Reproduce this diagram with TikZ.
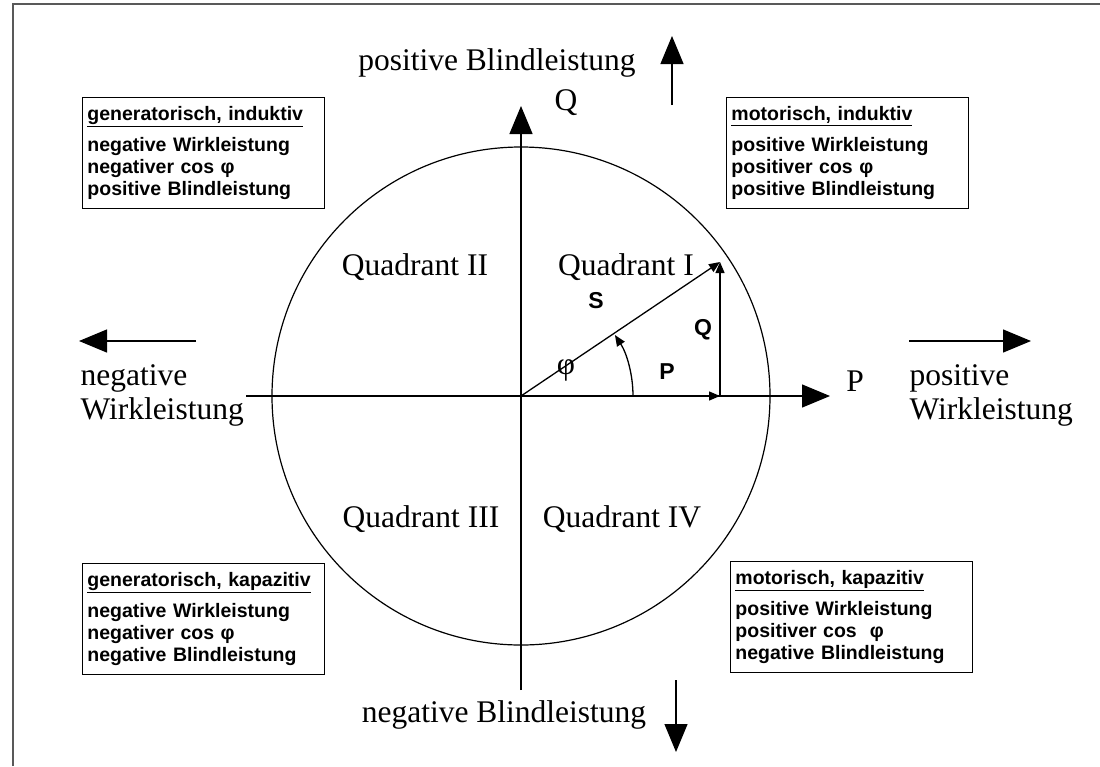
\documentclass[tikz,border=0pt]{standalone}
\usepackage{fontspec}
\setmainfont{Liberation Serif}
\setsansfont{Liberation Sans}
\usetikzlibrary{arrows.meta}

\begin{document}
\begin{tikzpicture}[x=1pt,y=-1pt,
	big/.style={font=\fontsize{31.5}{34}\selectfont},
	vec/.style={font=\sffamily\bfseries\fontsize{23}{26}\selectfont},
	info/.style={draw,line width=0.9pt,anchor=north west,align=left,inner xsep=5pt,inner ysep=9pt,
		text width=232pt,font=\sffamily\bfseries\fontsize{19.5}{22}\selectfont},
	fat/.style={-{Triangle[width=23pt,length=28pt]},line width=1.3pt},
	thin/.style={-{Triangle[width=9pt,length=11pt]},line width=1.3pt}]
	\useasboundingbox (0,0) rectangle (1100,766);
	\draw[gray!70!black,line width=2pt] (13,766) -- (13,4) -- (1100,4);
	% axes and circle
	\coordinate (O) at (521,396);
	\coordinate (xl) at (246,396);
	\coordinate (xr) at (830,396);
	\coordinate (yb) at (521,690);
	\coordinate (yt) at (521,106);
	\draw[line width=1.2pt] (O) circle[radius=249];
	\draw[fat] (xl) -- (xr);
	\draw[fat] (yb) -- (yt);
	\draw (566,103) node[big] (qaxis) {Q};
	\draw (855,381) node[big] (paxis) {P};
	% power triangle
	\coordinate (Sp) at (720,262);
	\coordinate (Pp) at (720,396);
	\draw[thin] (O) -- (Pp);
	\draw[thin] (Pp) -- (Sp);
	\draw[thin] (O) -- (Sp);
	\draw[thin] (O) ++(112,0) arc[start angle=0,end angle=-33,radius=112];
	\draw (596,301) node[vec] (slab) {S};
	\draw (703,330) node[vec] (qlab) {Q};
	\draw (667,372) node[vec] (plab) {P};
	\draw (566,370) node[big] (philab) {φ};
	% quadrants
	\draw (626,267) node[big] (q1) {Quadrant I};
	\draw (415,267) node[big] (q2) {Quadrant II};
	\draw (421,519) node[big] (q3) {Quadrant III};
	\draw (622,519) node[big] (q4) {Quadrant IV};
	% directions
	\coordinate (up0) at (672,105);
	\coordinate (up1) at (672,36);
	\coordinate (dn0) at (676,680);
	\coordinate (dn1) at (676,752);
	\coordinate (lf0) at (196,341);
	\coordinate (lf1) at (79,341);
	\coordinate (rt0) at (909,341);
	\coordinate (rt1) at (1031,341);
	\draw[fat] (up0) -- (up1);
	\draw[fat] (dn0) -- (dn1);
	\draw[fat] (lf0) -- (lf1);
	\draw[fat] (rt0) -- (rt1);
	\draw (497,63) node[big] (posQ) {positive Blindleistung};
	\draw (504,715) node[big] (negQ) {negative Blindleistung};
	\draw (77,395) node[big,anchor=west,align=left] (negP) {negative\\Wirkleistung};
	\draw (906,395) node[big,anchor=west,align=left] (posP) {positive\\Wirkleistung};
	% info boxes
	\node[info] (gi) at (82,97) {\underline{generatorisch, induktiv}\\[9pt]negative Wirkleistung\\negativer cos φ\\positive Blindleistung};
	\node[info] (mi) at (726,97) {\underline{motorisch, induktiv}\\[9pt]positive Wirkleistung\\positiver cos φ\\positive Blindleistung};
	\node[info] (gk) at (82,563) {\underline{generatorisch, kapazitiv}\\[9pt]negative Wirkleistung\\negativer cos φ\\negative Blindleistung};
	\node[info] (mk) at (730,561) {\underline{motorisch, kapazitiv}\\[9pt]positive Wirkleistung\\positiver cos \ φ\\negative Blindleistung};
\end{tikzpicture}
\end{document}
